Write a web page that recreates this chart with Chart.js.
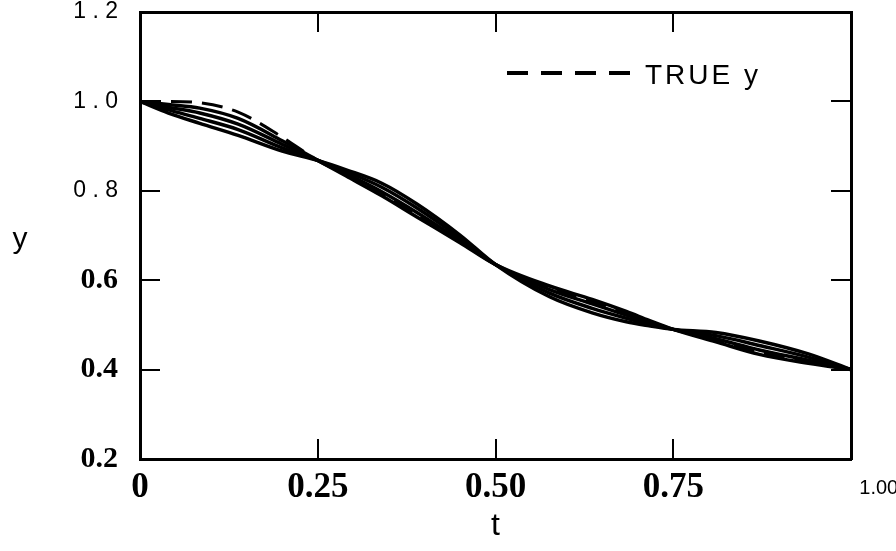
<!DOCTYPE html>
<html><head><meta charset="utf-8">
<script src="https://cdn.jsdelivr.net/npm/chart.js@4"></script>
<style>html,body{margin:0;padding:0;background:#fff}#wrap{width:896px;height:551px;position:relative}</style>
</head><body><div id="wrap"><canvas id="c" width="896" height="551"></canvas></div>
<script>
// ---- data ----
const tValues = [0, 0.04, 0.084, 0.138, 0.2, 0.25, 0.29, 0.34, 0.39, 0.45, 0.5, 0.576, 0.636, 0.684, 0.716, 0.75, 0.81, 0.871, 0.94, 1.0];
const approx1 = [1.0, 0.993, 0.985, 0.962, 0.912, 0.868, 0.833, 0.789, 0.741, 0.684, 0.635, 0.587, 0.557, 0.530, 0.510, 0.49, 0.462, 0.434, 0.414, 0.40];
const approx2 = [1.0, 0.987, 0.974, 0.949, 0.904, 0.868, 0.838, 0.798, 0.751, 0.689, 0.635, 0.579, 0.547, 0.522, 0.506, 0.49, 0.469, 0.444, 0.421, 0.40];
const approx3 = [1.0, 0.981, 0.962, 0.937, 0.896, 0.868, 0.843, 0.808, 0.761, 0.695, 0.635, 0.571, 0.537, 0.515, 0.502, 0.49, 0.476, 0.454, 0.428, 0.40];
const approx4 = [1.0, 0.974, 0.951, 0.924, 0.889, 0.868, 0.847, 0.817, 0.770, 0.701, 0.635, 0.563, 0.527, 0.507, 0.498, 0.49, 0.483, 0.464, 0.435, 0.40];
const trueY   = [1.0, 1.0, 0.997, 0.976, 0.920, 0.868, 0.835, 0.794, 0.746, 0.686, 0.635, 0.583, 0.552, 0.526, 0.508, 0.49, 0.466, 0.439, 0.418, 0.40];

const xTickValues = [0, 0.25, 0.5, 0.75, 1.0];
const xTickLabels = ['0', '0.25', '0.50', '0.75', '1.00'];
const yTickValues = [0.2, 0.4, 0.6, 0.8, 1.0, 1.2];
const yTickLabels = ['0.2', '0.4', '0.6', '0 . 8', '1 . 0', '1 . 2'];
const xTitle = 't';
const yTitle = 'y';
const legendLabel = 'TRUE y';

// ---- chart ----
const THIN = '"Liberation Sans", Arial, sans-serif';
const SERIF = '"Liberation Serif", "DejaVu Serif", serif';
const SANS = '"Liberation Sans", Arial, sans-serif';

const toPts = arr => tValues.map((t, i) => ({x: t, y: arr[i]}));
const solid = arr => ({data: toPts(arr), borderColor: '#000', borderWidth: 3.5, pointRadius: 0, cubicInterpolationMode: 'monotone', fill: false});

const decor = {
  id: 'decor',
  afterDraw(chart) {
    const {ctx, chartArea: ca} = chart;
    const xs = chart.scales.x, ys = chart.scales.y;
    ctx.save();
    ctx.strokeStyle = '#000';
    ctx.lineWidth = 2;
    const line = (a, b, c, d) => { ctx.beginPath(); ctx.moveTo(a, b); ctx.lineTo(c, d); ctx.stroke(); };
    xTickValues.slice(1, -1).forEach(v => {
      const px = Math.round(xs.getPixelForValue(v));
      line(px, ca.bottom, px, ca.bottom - 20);
      line(px, ca.top, px, ca.top + 20);
    });
    yTickValues.slice(1, -1).forEach(v => {
      const py = Math.round(ys.getPixelForValue(v));
      line(ca.left, py, ca.left + 20, py);
      line(ca.right, py, ca.right - 20, py);
    });
    // legend
    ctx.lineWidth = 4;
    ctx.setLineDash([21, 13]);
    const ly = ca.top + 61;
    line(ca.left + 367, ly, ca.left + 493, ly);
    ctx.setLineDash([]);
    ctx.fillStyle = '#000';
    ctx.font = '28px ' + SANS;
    ctx.letterSpacing = '3px';
    ctx.textAlign = 'left';
    ctx.textBaseline = 'alphabetic';
    ctx.fillText(legendLabel, ca.left + 505, ca.top + 72);
    ctx.letterSpacing = '0px';
    // y axis title (unrotated)
    ctx.font = '30px ' + SANS;
    ctx.textAlign = 'center';
    ctx.fillText(yTitle, 20, 248);
    ctx.restore();
  }
};

new Chart(document.getElementById('c'), {
  type: 'line',
  data: {
    datasets: [
      solid(approx1), solid(approx2), solid(approx3), solid(approx4),
      {data: toPts(trueY), borderColor: '#000', borderWidth: 3, borderDash: [21, 10], pointRadius: 0, cubicInterpolationMode: 'monotone', fill: false}
    ]
  },
  options: {
    responsive: false,
    animation: false,
    devicePixelRatio: 1,
    layout: {padding: {left: 0, top: 12, right: 45, bottom: 0}},
    plugins: {legend: {display: false}, tooltip: {enabled: false}},
    scales: {
      x: {
        type: 'linear', position: 'bottom', min: 0, max: 1,
        afterBuildTicks: s => { s.ticks = xTickValues.map(v => ({value: v})); },
        afterFit: s => { s.height = 92; s.paddingLeft = 0; s.paddingRight = 0; },
        ticks: {
          autoSkip: false, maxRotation: 0, color: '#000', padding: 8,
          callback: (v, i) => (i === xTickLabels.length - 1 ? ' '.repeat(10) : '') + xTickLabels[i],
          font: c => c.index === xTickLabels.length - 1
            ? {family: THIN, size: 20, lineHeight: 42 / 20}
            : {family: SERIF, weight: 'bold', size: 35}
        },
        grid: {display: false, drawTicks: false},
        border: {display: true, color: '#000', width: 3},
        title: {display: true, text: xTitle, color: '#000', font: {family: SANS, size: 32}, padding: {top: 0, bottom: 6}}
      },
      y: {
        type: 'linear', position: 'left', min: 0.2, max: 1.2,
        afterBuildTicks: s => { s.ticks = yTickValues.map(v => ({value: v})); },
        afterFit: s => { s.width = 140; s.paddingTop = 0; s.paddingBottom = 0; },
        ticks: {
          color: '#000', padding: 22,
          callback: (v, i) => yTickLabels[i],
          font: c => c.index >= 3
            ? {family: THIN, size: 23}
            : {family: SERIF, weight: 'bold', size: 30}
        },
        grid: {display: false, drawTicks: false},
        border: {display: true, color: '#000', width: 3}
      },
      x2: {
        type: 'linear', position: 'top', min: 0, max: 1,
        ticks: {display: false}, grid: {display: false, drawTicks: false},
        border: {display: true, color: '#000', width: 3},
        afterFit: s => { s.height = 0; s.paddingLeft = 0; s.paddingRight = 0; }
      },
      y2: {
        type: 'linear', position: 'right', min: 0.2, max: 1.2,
        ticks: {display: false}, grid: {display: false, drawTicks: false},
        border: {display: true, color: '#000', width: 3},
        afterFit: s => { s.width = 0; }
      }
    }
  },
  plugins: [decor]
});
</script>
</body></html>
